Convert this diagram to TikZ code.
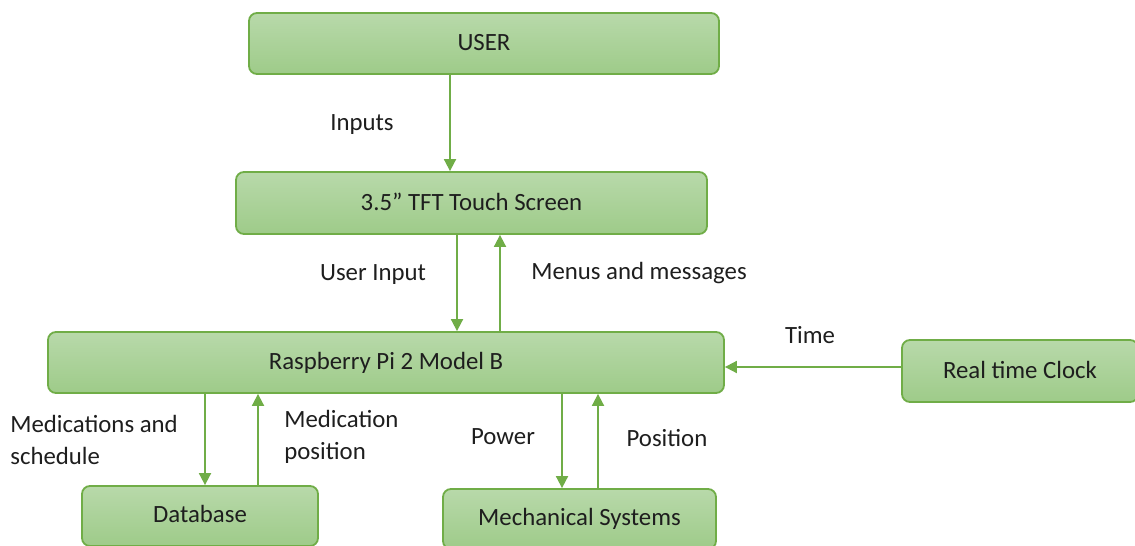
\documentclass[tikz,border=0pt]{standalone}
\usepackage{fontspec}
\setmainfont{Carlito}
\usepackage{xcolor}
\usetikzlibrary{arrows.meta, positioning, calc}

\definecolor{blkline}{RGB}{112,173,71}
\definecolor{blktop}{RGB}{184,217,170}
\definecolor{blkbot}{RGB}{158,203,137}
\definecolor{txt}{RGB}{30,30,30}

\begin{document}
\begin{tikzpicture}[
  x=0.5pt, y=-0.5pt, font=\fontsize{12.4}{16}\selectfont, text=txt,
  >={Triangle[width=6pt,length=6pt]},
  blk/.style={rectangle, rounded corners=4pt, draw=blkline, line width=0.9pt,
              top color=blktop, bottom color=blkbot, align=center, inner sep=0pt},
  arr/.style={->, draw=blkline, line width=0.9pt},
  lbl/.style={align=left, inner sep=0pt}]
  \clip (0,0) rectangle (1135,546);
  \fill[white] (0,0) rectangle (1135,546);
  \node[blk, minimum width=235pt, minimum height=30.5pt] (user) at (484,43.5) {\raisebox{1pt}{USER}};
  \node[blk, minimum width=235.5pt, minimum height=31pt] (tft) at (471.5,203) {\raisebox{1.5pt}{3.5” TFT Touch Screen}};
  \node[blk, minimum width=338pt, minimum height=30.5pt] (rpi) at (386,362.5) {\raisebox{2pt}{Raspberry Pi 2 Model B}};
  \node[blk, minimum width=118pt, minimum height=31pt] (rtc) at (1020,371) {\raisebox{1.5pt}{Real time Clock}};
  \node[blk, minimum width=118pt, minimum height=30pt] (db) at (200,516) {\raisebox{2pt}{Database}};
  \node[blk, minimum width=136.5pt, minimum height=30pt] (mech) at (579.5,519) {\raisebox{1.5pt}{Mechanical Systems}};
  % user -> screen
  \draw[arr] ([xshift=-17pt]user.south) -- ([xshift=-17pt]user.south |- tft.north);
  \node[lbl] at (362,125) {Inputs};
  % screen <-> pi
  \draw[arr] ([xshift=-7.25pt]tft.south) -- ([xshift=-7.25pt]tft.south |- rpi.north);
  \draw[arr] ([xshift=14.25pt]tft.south |- rpi.north) -- ([xshift=14.25pt]tft.south);
  \node[lbl] at (373,275) {User Input};
  \node[lbl] at (639,273) {Menus and messages};
  % pi <-> database
  \draw[arr] ([xshift=2.5pt]db.north |- rpi.south) -- ([xshift=2.5pt]db.north);
  \draw[arr] ([xshift=29pt]db.north) -- ([xshift=29pt]db.north |- rpi.south);
  \node[lbl, anchor=west] at (10,440) {Medications and\\schedule};
  \node[lbl, anchor=west] at (284,437) {Medication\\position};
  % pi <-> mechanics
  \draw[arr] ([xshift=-8.75pt]mech.north |- rpi.south) -- ([xshift=-8.75pt]mech.north);
  \draw[arr] ([xshift=9.25pt]mech.north) -- ([xshift=9.25pt]mech.north |- rpi.south);
  \node[lbl] at (503,437) {Power};
  \node[lbl] at (667,438) {Position};
  % clock -> pi
  \draw[arr] ([yshift=2pt]rtc.west) -- ([yshift=2pt]rtc.west -| rpi.east);
  \node[lbl] at (810,335) {Time};
\end{tikzpicture}
\end{document}
